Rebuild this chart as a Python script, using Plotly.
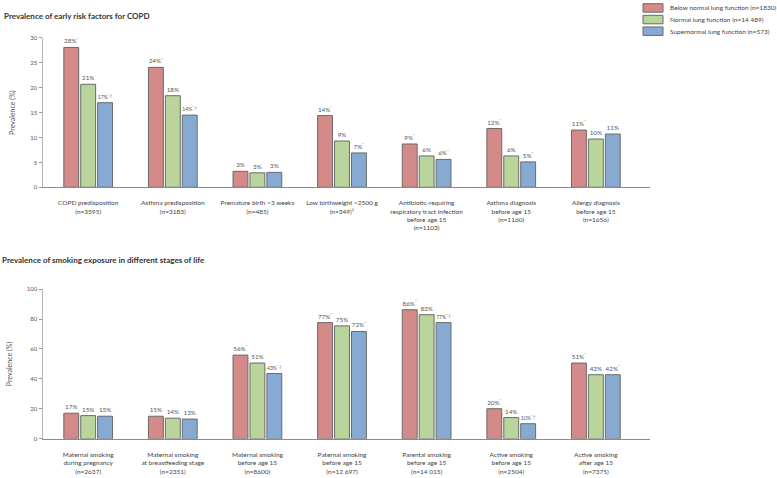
import plotly.graph_objects as go
from plotly.subplots import make_subplots

# data
groups = ['Below normal lung function (n=1830)',
          'Normal lung function (n=14 489)',
          'Supernormal lung function (n=573)']
colors = ['#d48a89', '#b9d59b', '#87aad2']

risk_cats = ['COPD predisposition<br>(n=3595)',
             'Asthma predisposition<br>(n=3183)',
             'Premature birth &gt;3 weeks<br>(n=485)',
             'Low birthweight &lt;2500 g<br>(n=349)<sup>‡</sup>',
             'Antibiotic-requiring<br>respiratory tract infection<br>before age 15<br>(n=1103)',
             'Asthma diagnosis<br>before age 15<br>(n=1160)',
             'Allergy diagnosis<br>before age 15<br>(n=1656)']
risk_below = [28.1, 24.1, 3.2, 14.4, 8.7, 11.8, 11.5]
risk_normal = [20.7, 18.4, 2.9, 9.3, 6.3, 6.3, 9.7]
risk_super = [17.0, 14.5, 3.0, 6.9, 5.6, 5.1, 10.7]
risk_below_lbl = ['28%*', '24%*', '3%', '14%*', '9%*', '12%*', '11%*']
risk_normal_lbl = ['21%', '18%', '3%', '9%', '6%', '6%', '10%']
risk_super_lbl = ['17%*,†', '14%*,†', '3%', '7%*', '6%*', '5%*', '11%']

smoke_cats = ['Maternal smoking<br>during pregnancy<br>(n=2637)',
              'Maternal smoking<br>at breastfeeding stage<br>(n=2351)',
              'Maternal smoking<br>before age 15<br>(n=8600)',
              'Paternal smoking<br>before age 15<br>(n=12 697)',
              'Parental smoking<br>before age 15<br>(n=14 015)',
              'Active smoking<br>before age 15<br>(n=2504)',
              'Active smoking<br>after age 15<br>(n=7375)']
smoke_below = [17.1, 15.1, 55.9, 77.6, 86.2, 20.1, 50.6]
smoke_normal = [15.5, 13.8, 50.6, 75.4, 82.9, 14.2, 42.8]
smoke_super = [15.1, 13.2, 43.6, 71.7, 77.6, 10.1, 42.8]
smoke_below_lbl = ['17%', '15%', '56%*', '77%*', '86%*', '20%*', '51%*']
smoke_normal_lbl = ['15%', '14%', '51%', '75%', '83%', '14%', '43%']
smoke_super_lbl = ['15%', '13%', '43%*,†', '72%*', '77%*,†', '10%*,†', '42%*']


def sup(lbl):
    # asterisks / daggers are set as superscripts
    base = lbl.split('%')[0] + '%'
    rest = lbl[len(base):]
    return base + ('<sup>' + rest + '</sup>' if rest else '')


fig = make_subplots(rows=2, cols=1)

panels = [
    (1, risk_cats, [risk_below, risk_normal, risk_super],
     [risk_below_lbl, risk_normal_lbl, risk_super_lbl]),
    (2, smoke_cats, [smoke_below, smoke_normal, smoke_super],
     [smoke_below_lbl, smoke_normal_lbl, smoke_super_lbl]),
]
for row, cats, series, labels in panels:
    for i in range(3):
        fig.add_trace(go.Bar(
            x=list(range(len(cats))),
            y=series[i],
            name=groups[i],
            text=[sup(t) for t in labels[i]],
            textposition='outside',
            textfont=dict(size=6.3, color='#555555'),
            cliponaxis=False,
            marker=dict(color=colors[i], line=dict(color='#6a6a6a', width=1)),
            showlegend=False,
            hoverinfo='skip',
        ), row=row, col=1)

font = 'Lato, Open Sans, sans-serif'
x_dom = [42.5 / 777, 650 / 777]

fig.update_layout(
    width=777, height=478,
    margin=dict(l=0, r=0, t=0, b=0),
    paper_bgcolor='white', plot_bgcolor='white',
    font=dict(family=font, size=7, color='#444444'),
    barmode='group', bargap=0.4, bargroupgap=0.12,
)

for row, cats, y_dom, y_range, dtick in [
        (1, risk_cats, [1 - 186 / 478, 1 - 34.5 / 478], [0, 30], 5),
        (2, smoke_cats, [1 - 441.3 / 478, 1 - 289.3 / 478], [0, 100], 20)]:
    fig.update_xaxes(
        domain=x_dom, range=[-0.54, 6.64],
        tickmode='array', tickvals=list(range(len(cats))), ticktext=cats,
        showline=True, linecolor='#8a8a8a', linewidth=1,
        ticks='', showgrid=False, zeroline=False,
        tickfont=dict(size=6.5, color='#444444'),
        ticklabelstandoff=9,
        row=row, col=1)
    fig.update_yaxes(
        domain=y_dom, range=y_range, dtick=dtick,
        showline=True, linecolor='#b5b5b5', linewidth=1,
        ticks='outside', ticklen=3, tickcolor='#9a9a9a',
        showgrid=False, zeroline=False,
        tickfont=dict(size=6, color='#555555'),
        title=dict(text='Prevalence (%)', font=dict(size=7, color='#555555'), standoff=13),
        row=row, col=1)

fig.add_annotation(text='<b>Prevalence of early risk factors for COPD</b>',
                   xref='paper', yref='paper', x=2 / 777, y=1 - 12 / 478,
                   xanchor='left', yanchor='middle', showarrow=False,
                   font=dict(size=8, color='#333333'))
fig.add_annotation(text='<b>Prevalence of smoking exposure in different stages of life</b>',
                   xref='paper', yref='paper', x=0, y=1 - 260 / 478,
                   xanchor='left', yanchor='middle', showarrow=False,
                   font=dict(size=8, color='#333333'))

# legend drawn as boxes + text at the top right
for i, (name, col) in enumerate(zip(groups, colors)):
    yc = 4 + 11.8 * i
    fig.add_shape(type='rect', xref='paper', yref='paper',
                  x0=643 / 777, x1=663 / 777,
                  y0=1 - (yc + 4.3) / 478, y1=1 - (yc - 4.3) / 478,
                  fillcolor=col, line=dict(color='#6a6a6a', width=1))
    fig.add_annotation(text=name, xref='paper', yref='paper',
                       x=668 / 777, y=1 - yc / 478, xanchor='left', yanchor='middle',
                       showarrow=False, font=dict(size=6.5, color='#444444'))

# page has a default body margin; drop it so the figure fills the window
fig.write_html("out.html", config={'displayModeBar': False},
               post_script="document.body.style.margin='0';")
